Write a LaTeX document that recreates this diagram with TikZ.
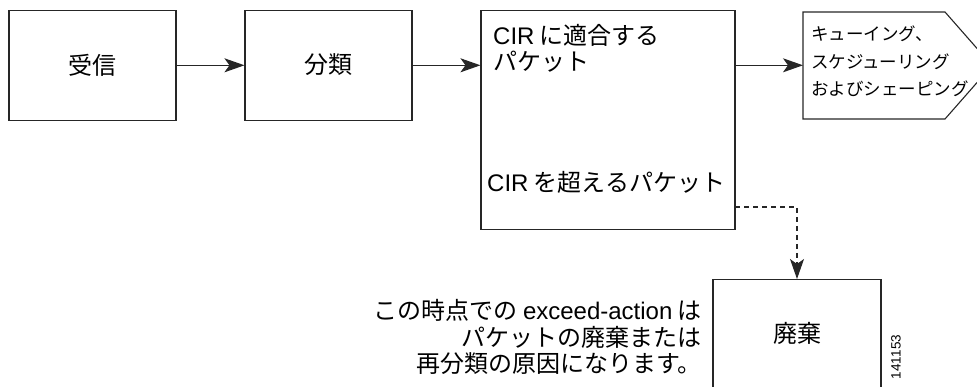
\documentclass[tikz,border=0pt]{standalone}
\usepackage{fontspec}
\setmainfont{Liberation Sans}
\newfontfamily\jp{Noto Sans CJK JP}
\usetikzlibrary{arrows.meta}
\begin{document}
\begin{tikzpicture}[x=1pt,y=-1pt,
  box/.style={draw=black!85,line width=1.1pt,minimum width=#1,inner sep=0pt},
  conn/.style={draw=black!85,line width=1.1pt,-{Stealth[length=20pt,width=14pt,inset=5pt]}},
  dconn/.style={conn,dashed,dash pattern=on 5pt off 4pt},
  lbl/.style={font=\fontsize{24}{26.5}\selectfont\jp,inner sep=0pt},
  small/.style={font=\fontsize{17.5}{27.5}\selectfont\jp,inner sep=0pt,align=left}]
\useasboundingbox (0,0) rectangle (977,387);
\clip (0,0) rectangle (977,387);
\node[box=167pt,minimum height=110pt] (b1) at (92.5,65.3) {};
\node[lbl] (t1) at (92.5,65) {受信};
\node[box=167pt,minimum height=110pt] (b2) at (328.5,65.3) {};
\node[lbl] (t2) at (328.5,65) {分類};
\node[box=254pt,minimum height=219pt] (b3) at (608,120.3) {};
\node[lbl,anchor=west] (t3a) at (493,35) {{\rmfamily CIR} に適合する};
\node[lbl,anchor=west] (t3b) at (493,62) {パケット};
\node[lbl,anchor=west] (t3c) at (487,182) {{\rmfamily CIR} を超えるパケット};
\draw[draw=black!85,line width=1.1pt] (803,12) -- (945,12) -- (992,65.5) -- (945,119) -- (803,119) -- cycle;
\coordinate (b4) at (803,65.3);
\node[small,anchor=north west] (t4) at (811,26) {キューイング、\\スケジューリング\\およびシェーピング};
\node[box=168pt,minimum height=130pt,anchor=north] (b5) at (797,279) {};
\node[lbl] (t5) at (797,333) {廃棄};
\node[lbl,anchor=east,align=right] (note) at (702,337)
  {この時点での {\rmfamily exceed-action} は\\パケットの廃棄または\\再分類の原因になります。};
\node[font=\fontsize{13.5}{15}\selectfont\rmfamily,rotate=90,inner sep=0pt] (id) at (896,357) {141153};
\coordinate (d1) at (735,207);
\coordinate (d2) at (797,207);
\draw[conn] (b1.east) -- (b2.west);
\draw[conn] (b2.east) -- (b2.east -| b3.west);
\draw[conn] (b3.east |- b4) -- (b4);
\draw[dconn] (d1) -- (d2) -- (b5.north);
\end{tikzpicture}
\end{document}
